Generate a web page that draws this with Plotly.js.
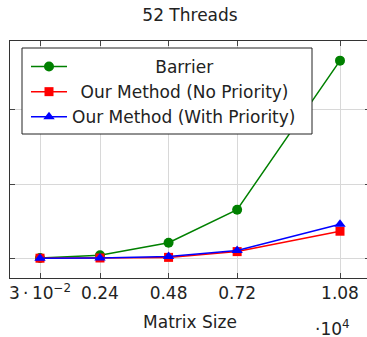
<!DOCTYPE html>
<html>
<head>
<meta charset="utf-8">
<script src="https://cdn.plot.ly/plotly-3.0.1.min.js"></script>
<style>
html, body { margin: 0; padding: 0; overflow: hidden; background: #fff; }
#chart { width: 373px; height: 337px; }
</style>
</head>
<body>
<div id="chart"></div>
<script>
// Data
const matrixSize = [300, 2400, 4800, 7200, 10800];
const tickLabels = ['3\u2009·\u200910<sup>−2</sup>', '0.24', '0.48', '0.72', '1.08'];
const seriesNames = ['Barrier', 'Our Method (No Priority)', 'Our Method (With Priority)'];
const barrier = [0.3, 4, 21, 65.5, 266.5];
const noPriority = [0.1, 0.4, 1.2, 9, 36.5];
const withPriority = [0.1, 0.5, 2.5, 10.5, 46];
const yGrid = [0, 100, 200];

// Padding to centre legend labels (legend layout only)
const padLeft = ['\u2002\u2002\u2002\u2002\u2002\u2002\u2002\u2002\u2002\u2009\u2009', '\u2002', ''];

const colors = ['#008000', '#ff0000', '#0000ff'];
const symbols = ['circle', 'square', 'triangle-up'];
const sizes = [10, 9, 10];
const ys = [barrier, noPriority, withPriority];

const traces = ys.map((y, i) => ({
  x: matrixSize,
  y: y,
  name: padLeft[i] + seriesNames[i],
  type: 'scatter',
  mode: 'lines+markers',
  line: { color: colors[i], width: 1.5 },
  marker: { color: colors[i], symbol: symbols[i], size: sizes[i] }
}));

// pixel helpers for paper coordinates (plot area: x 10..370, y 41..278)
const px = v => (v - 10) / 360;
const py = v => (278 - v) / 237;

const font = 'DejaVu Sans, sans-serif';
const layout = {
  width: 373,
  height: 337,
  margin: { l: 10, r: 3, t: 41, b: 59 },
  paper_bgcolor: '#fff',
  plot_bgcolor: '#fff',
  font: { family: font, size: 17, color: '#222' },
  title: {
    text: '52 Threads',
    x: 0.5, xref: 'paper', xanchor: 'center',
    y: 1 - 15 / 337, yref: 'container', yanchor: 'middle',
    font: { family: font, size: 17, color: '#222' }
  },
  xaxis: {
    range: [-750, 11850],
    tickvals: matrixSize,
    ticktext: tickLabels,
    ticks: 'inside', ticklen: 5, tickcolor: '#444',
    showline: true, linecolor: '#333', linewidth: 1, mirror: 'ticks',
    showgrid: true, gridcolor: '#d8d8d8', gridwidth: 1,
    zeroline: false,
    tickfont: { family: font, size: 17, color: '#222' },
    title: { text: 'Matrix Size', standoff: 13, font: { family: font, size: 17, color: '#222' } },
    automargin: false
  },
  yaxis: {
    range: [-26.6, 293],
    tickvals: yGrid,
    showticklabels: false,
    ticks: 'inside', ticklen: 5, tickcolor: '#444',
    showline: true, linecolor: '#333', linewidth: 1, mirror: 'ticks',
    showgrid: true, gridcolor: '#d8d8d8', gridwidth: 1,
    zeroline: false,
    automargin: false
  },
  legend: {
    x: px(26), y: py(49), xanchor: 'left', yanchor: 'top',
    bgcolor: 'rgba(0,0,0,0)', borderwidth: 0,
    font: { family: font, size: 17, color: '#222' },
    itemwidth: 36
  },
  shapes: [{
    type: 'rect', xref: 'paper', yref: 'paper', layer: 'above',
    x0: px(22), x1: px(312), y0: py(48), y1: py(134),
    fillcolor: '#fff', line: { color: '#222', width: 1 }
  }],
  annotations: [{
    text: '·10<sup>4</sup>',
    xref: 'paper', yref: 'paper',
    x: px(332), y: py(328),
    xanchor: 'center', yanchor: 'middle',
    showarrow: false,
    font: { family: font, size: 17, color: '#222' }
  }],
  showlegend: true
};

Plotly.newPlot('chart', traces, layout, { displayModeBar: false, staticPlot: true });
</script>
</body>
</html>
